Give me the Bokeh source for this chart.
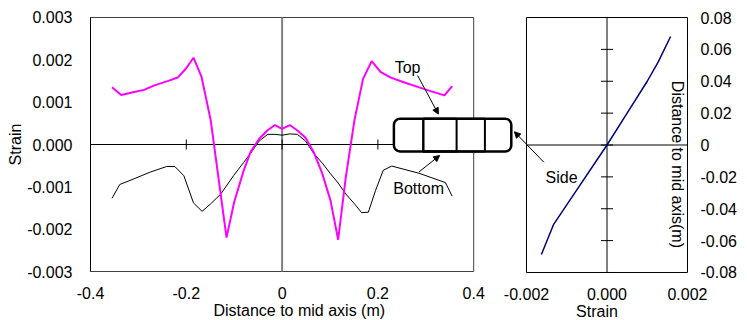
import math
from bokeh.plotting import figure
from bokeh.models import (FixedTicker, BoxAnnotation, Arrow, NormalHead, Label, Range1d)
from bokeh.layouts import row
from bokeh.embed import file_html
from bokeh.resources import INLINE

# ---------------- data ----------------
top_x = [-0.355, -0.336, -0.309, -0.288, -0.268, -0.236, -0.217, -0.201, -0.185, -0.168,
         -0.149, -0.116, -0.100, -0.080, -0.066, -0.048, -0.031, -0.015, 0.0, 0.016,
         0.032, 0.049, 0.066, 0.084, 0.101, 0.117, 0.133, 0.151, 0.169, 0.187,
         0.206, 0.227, 0.254, 0.286, 0.310, 0.339, 0.355]
top_y = [0.00135, 0.00117, 0.00124, 0.00129, 0.00139, 0.00151, 0.00159, 0.00179, 0.00205, 0.00159,
         0.00057, -0.00220, -0.00136, -0.00061, -0.00018, 0.00013, 0.00033, 0.00046, 0.00037, 0.00046,
         0.00033, 0.00016, -0.00018, -0.00069, -0.00132, -0.00225, -0.00077, 0.00057, 0.00155, 0.00197,
         0.00171, 0.00158, 0.00147, 0.00135, 0.00126, 0.00116, 0.00138]

bot_x = [-0.355, -0.339, -0.309, -0.275, -0.241, -0.224, -0.205, -0.185, -0.167, -0.149,
         -0.128, -0.101, -0.080, -0.066, -0.048, -0.030, -0.015, 0.0, 0.016, 0.032,
         0.049, 0.066, 0.084, 0.101, 0.117, 0.133, 0.151, 0.166, 0.180, 0.195,
         0.211, 0.229, 0.286, 0.341, 0.355]
bot_y = [-0.00127, -0.000945, -0.00081, -0.00065, -0.00052, -0.00052, -0.00074, -0.00138, -0.00158, -0.00140,
         -0.00117, -0.00073, -0.00042, -0.00021, 0.00008, 0.00024, 0.00024, 0.00022, 0.00025, 0.00024,
         0.00008, -0.00021, -0.00044, -0.00069, -0.00091, -0.00117, -0.00140, -0.00161, -0.00160, -0.00109,
         -0.00061, -0.00051, -0.00068, -0.00090, -0.00122]

side_strain = [-0.00163, -0.00133, -0.00080, 0.0, 0.00050, 0.00100, 0.00127, 0.00158]
side_dist = [-0.0687, -0.050, -0.030, 0.0, 0.020, 0.040, 0.052, 0.0681]

left_xlim = (-0.4, 0.4)
left_ylim = (-0.003, 0.003)
right_xlim = (-0.002, 0.002)
right_ylim = (-0.08, 0.08)

left_xticks = [-0.4, -0.2, 0.0, 0.2, 0.4]
left_xlabels = ["-0.4", "-0.2", "0", "0.2", "0.4"]
left_yticks = [-0.003, -0.002, -0.001, 0.0, 0.001, 0.002, 0.003]
left_ylabels = ["-0.003", "-0.002", "-0.001", "0.000", "0.001", "0.002", "0.003"]
right_xticks = [-0.002, 0.0, 0.002]
right_xlabels = ["-0.002", "0.000", "0.002"]
right_yticks = [-0.08, -0.06, -0.04, -0.02, 0.0, 0.02, 0.04, 0.06, 0.08]
right_ylabels = ["-0.08", "-0.06", "-0.04", "-0.02", "0", "0.02", "0.04", "0.06", "0.08"]

FONT = "Liberation Sans"
FS = "16px"


def style_axis(ax, ticks, labels, standoff):
    ax.ticker = FixedTicker(ticks=ticks)
    ax.major_label_overrides = dict(zip(ticks, labels))
    ax.major_tick_in = 0
    ax.major_tick_out = 0
    ax.minor_tick_in = 0
    ax.minor_tick_out = 0
    ax.axis_line_color = None
    ax.major_label_standoff = standoff
    ax.major_label_text_font = FONT
    ax.major_label_text_font_size = FS
    ax.major_label_text_color = "black"
    ax.axis_label_text_font = FONT
    ax.axis_label_text_font_size = FS
    ax.axis_label_text_font_style = "normal"
    ax.axis_label_text_color = "black"


# ---------------- left chart ----------------
# frame is a little wider than the plot area so the section sketch is not clipped
p1 = figure(frame_width=424, frame_height=256,
            x_range=Range1d(-0.40209, 0.48309), y_range=Range1d(-0.0030236, 0.0030236),
            output_backend="svg", toolbar_location=None,
            min_border_left=89, min_border_right=0, min_border_top=16, min_border_bottom=40)
p1.grid.visible = False
p1.outline_line_color = None
p1.border_fill_color = None
p1.background_fill_color = None
style_axis(p1.xaxis[0], left_xticks, left_xlabels, 14)
p1.xaxis.axis_label = "Distance to mid axis  (m)"
p1.xaxis.axis_label_standoff = 0
style_axis(p1.yaxis[0], left_yticks, left_ylabels, 17)
p1.yaxis.axis_label = "Strain"
p1.yaxis.axis_label_standoff = 0

# plot-area border
p1.add_layout(BoxAnnotation(left=left_xlim[0], right=left_xlim[1], top=left_ylim[1], bottom=left_ylim[0],
                            fill_alpha=0, line_color="#404040", line_alpha=1, line_width=1, level="underlay"))
# value axis at x = -0.4 (black)
p1.line([left_xlim[0], left_xlim[0]], list(left_ylim), line_color="black", line_width=1)
# vertical line at x = 0 (gray)
p1.line([0.0, 0.0], list(left_ylim), line_color="#808080", line_width=2)
# category axis crossing at y = 0
p1.line(list(left_xlim), [0.0, 0.0], line_color="black", line_width=1)
p1.scatter(x=left_xticks, y=[0.0] * len(left_xticks), marker="dash", size=10,
           angle=math.pi / 2, line_color="black", line_width=1)

p1.line(bot_x, bot_y, line_color="black", line_width=1)
p1.line(top_x, top_y, line_color="#FF00FF", line_width=2)

# section sketch
p1.add_layout(BoxAnnotation(left=0.2334, right=0.4785, top=0.000607, bottom=-0.000165,
                            fill_color="white", fill_alpha=1, line_color="black", line_alpha=1,
                            line_width=2.5, border_radius=6))
p1.add_layout(BoxAnnotation(left=0.2948, right=0.4234, top=0.000607, bottom=-0.000165,
                            fill_alpha=0, line_color="black", line_alpha=1, line_width=2))
p1.add_layout(BoxAnnotation(left=0.2948, right=0.3643, top=0.000607, bottom=-0.000165,
                            fill_alpha=0, line_color="black", line_alpha=1, line_width=2))

p1.add_layout(Arrow(x_start=0.2829, y_start=0.00163, x_end=0.3262, y_end=0.00072,
                    end=NormalHead(size=6, fill_color="black", line_color="black"),
                    line_color="black", line_width=1))
p1.add_layout(Arrow(x_start=0.2856, y_start=-0.00065, x_end=0.3288, y_end=-0.00026,
                    end=NormalHead(size=6, fill_color="black", line_color="black"),
                    line_color="black", line_width=1))
p1.add_layout(Label(x=0.262, y=0.00183, text="Top", text_align="center", text_baseline="middle",
                    text_font=FONT, text_font_size=FS, text_color="black"))
p1.add_layout(Label(x=0.285, y=-0.00105, text="Bottom", text_align="center", text_baseline="middle",
                    text_font=FONT, text_font_size=FS, text_color="black"))

# ---------------- right chart ----------------
p2 = figure(frame_width=183, frame_height=257,
            x_range=Range1d(-0.0025217, 0.0020248), y_range=Range1d(-0.0806275, 0.0806275),
            y_axis_location="right",
            output_backend="svg", toolbar_location=None,
            min_border_left=10, min_border_right=56, min_border_top=16, min_border_bottom=40)
p2.grid.visible = False
p2.outline_line_color = None
p2.border_fill_color = None
p2.background_fill_color = None
style_axis(p2.xaxis[0], right_xticks, right_xlabels, 14)
p2.xaxis.axis_label = "Strain"
p2.xaxis.axis_label_standoff = 0
style_axis(p2.yaxis[0], right_yticks, right_ylabels, 12)

p2.add_layout(BoxAnnotation(left=right_xlim[0], right=right_xlim[1], top=right_ylim[1], bottom=right_ylim[0],
                            fill_alpha=0, line_color="black", line_alpha=1, line_width=1, level="underlay"))
p2.line([0.0, 0.0], list(right_ylim), line_color="black", line_width=1)
p2.line(list(right_xlim), [0.0, 0.0], line_color="black", line_width=1)
p2.scatter(x=[0.0] * len(right_yticks), y=right_yticks, marker="dash", size=12,
           line_color="black", line_width=1)

p2.line(side_strain, side_dist, line_color="#000080", line_width=1.5)

p2.add_layout(Label(x=0.00174, y=-0.0122, text="Distance to mid axis(m)", angle=-math.pi / 2,
                    text_align="center", text_baseline="middle",
                    text_font=FONT, text_font_size=FS, text_color="black"))
p2.add_layout(Arrow(x_start=-0.00157, y_start=-0.0108, x_end=-0.0023, y_end=0.0083,
                    end=NormalHead(size=6, fill_color="black", line_color="black"),
                    line_color="black", line_width=1))
p2.add_layout(Label(x=-0.00113, y=-0.0201, text="Side", text_align="center", text_baseline="middle",
                    text_font=FONT, text_font_size=FS, text_color="black"))
p2.margin = (0, 0, 0, -18)

layout = row(p1, p2, margin=(0, 0, -20, 0))

open("out.html", "w").write(file_html(layout, INLINE))
